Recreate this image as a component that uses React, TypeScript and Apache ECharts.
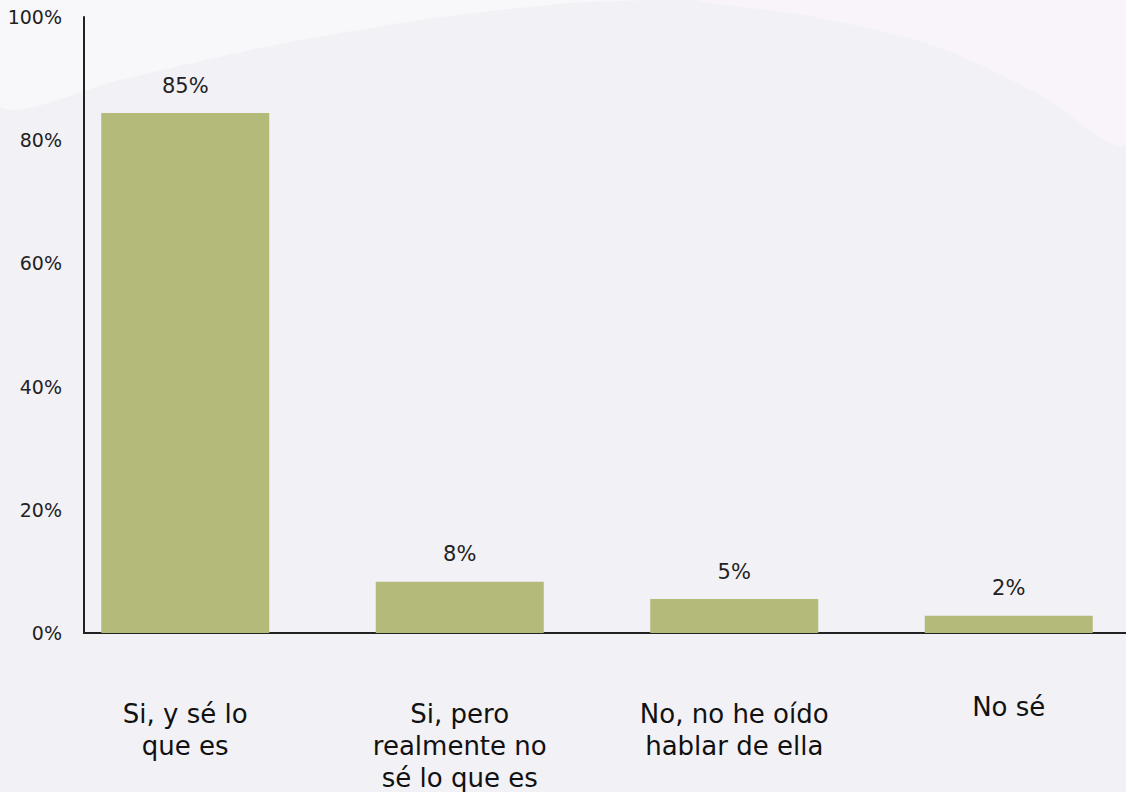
import React, { useEffect, useRef } from "react";
import * as echarts from "echarts";

const categories = [
  "Si, y sé lo\nque es",
  "Si, pero\nrealmente no\nsé lo que es",
  "No, no he oído\nhablar de ella",
  "No sé",
];
const values = [84.4, 8.3, 5.5, 2.8];
const valueLabels = ["85%", "8%", "5%", "2%"];
const yTicks = [0, 20, 40, 60, 80, 100];

const BG = "#f2f1f6";

export default function App() {
  const ref = useRef<HTMLDivElement>(null);
  useEffect(() => {
    if (!ref.current) return;
    const chart = echarts.init(ref.current, null, { renderer: "svg" });
    chart.setOption({
      animation: false,
      backgroundColor: BG,
      graphic: [
        {
          type: "polygon",
          silent: true,
          z: -10,
          shape: {
            points: [
              [0, 0],
              [0, 107],
              [120, 80],
              [260, 48],
              [420, 20],
              [560, 4],
              [640, 0],
            ],
            smooth: 0.3,
          },
          style: { fill: "#f8f8fb" },
        },
        {
          type: "polygon",
          silent: true,
          z: -10,
          shape: {
            points: [
              [700, 0],
              [820, 18],
              [940, 48],
              [1040, 95],
              [1126, 145],
              [1126, 0],
            ],
            smooth: 0.3,
          },
          style: { fill: "#f9f4f9" },
        },
        {
          type: "rect",
          silent: true,
          z: 2,
          shape: { x: 44, y: 630, width: 39, height: 6 },
          style: { fill: BG },
        },
      ],
      grid: {
        left: 48,
        right: -20,
        top: 17,
        bottom: 159,
        containLabel: false,
        outerBoundsMode: "none",
      },
      xAxis: {
        type: "category",
        z: 0,
        data: categories.map((c, i) =>
          i === 3 ? { value: c, textStyle: { lineHeight: 18 } } : c
        ),
        axisLine: { show: true, lineStyle: { color: "#222", width: 2 } },
        axisTick: { show: false },
        axisLabel: {
          interval: 0,
          margin: 65,
          color: "#111",
          fontSize: 26,
          lineHeight: 32,
          fontFamily: "'DejaVu Sans'",
          verticalAlign: "top",
        },
      },
      yAxis: {
        type: "value",
        z: 10,
        min: 0,
        max: 100,
        interval: 20,
        offset: -36,
        axisLine: { show: true, lineStyle: { color: "#222", width: 2 } },
        axisTick: { show: false },
        splitLine: { show: false },
        axisLabel: {
          margin: 22,
          color: "#222",
          fontSize: 19,
          fontFamily: "'DejaVu Sans'",
          formatter: (v: number) => (yTicks.includes(v) ? v + "%" : ""),
        },
      },
      series: [
        {
          type: "bar",
          data: values,
          barWidth: 168,
          itemStyle: { color: "#b3ba7a" },
          label: {
            show: true,
            position: "top",
            distance: 17,
            color: "#222",
            fontSize: 21,
            fontFamily: "'DejaVu Sans'",
            formatter: (p: any) => valueLabels[p.dataIndex],
          },
        },
      ],
    });
    return () => chart.dispose();
  }, []);
  return <div ref={ref} style={{ width: 1126, height: 792, position: "fixed", left: 0, top: 0 }} />;
}
